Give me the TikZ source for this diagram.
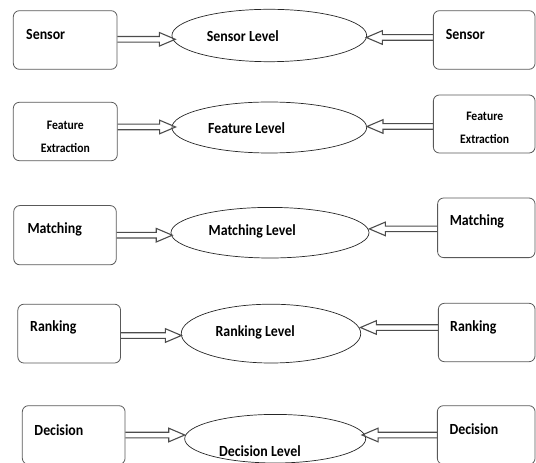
\documentclass[tikz,border=0pt]{standalone}
\usepackage{fontspec}
\newfontfamily\cf[FakeStretch=0.9]{Carlito}
\usetikzlibrary{shapes.geometric,calc}
\tikzset{
  sbox/.style={draw=black!65, line width=0.8bp, rounded corners=6bp, inner sep=0pt},
  lvl/.style={draw=black!85, line width=0.7bp, ellipse, inner sep=0pt},
  txt/.style={font=\cf\bfseries\fontsize{15.5}{18}\selectfont, inner sep=0pt, anchor=base west},
  stxt/.style={font=\cf\bfseries\fontsize{13}{15}\selectfont, inner sep=0pt, anchor=base},
  harrow/.style={draw=black!70, line width=1.1bp, line join=miter}
}
\newcommand\dblarrow[2]{%
  \draw[harrow] let \p1=#1, \p2=#2, \n1={ifthenelse(\x2>\x1,1,-1)} in
    (\x1,\y1+2.8bp) -- (\x2-\n1*16bp,\y1+2.8bp) -- (\x2-\n1*16bp,\y1+6.8bp) -- (\x2,\y1)
    -- (\x2-\n1*16bp,\y1-6.8bp) -- (\x2-\n1*16bp,\y1-2.8bp) -- (\x1,\y1-2.8bp);}
\begin{document}
\begin{tikzpicture}[x=1bp,y=-1bp]
\useasboundingbox (0,0) rectangle (536,463);
\clip (0,0) rectangle (536,463);
% row 1
\node[sbox, minimum width=103.7bp, minimum height=58.6bp] (L1) at (65.2,40) {};
\node[lvl, minimum width=194.7bp, minimum height=52.4bp] (E1) at (269.3,35.5) {};
\node[sbox, minimum width=101.7bp, minimum height=58.6bp] (R1) at (484.2,40) {};
\node[txt] (L1t) at (26,39.3) {Sensor};
\node[txt] (E1t) at (206.7,41.7) {Sensor Level};
\node[txt] (R1t) at (445.7,39.3) {Sensor};
\dblarrow{([yshift=0.7bp]L1.east)}{([xshift=3.7bp]E1.west)}
\dblarrow{([yshift=2.5bp]R1.west)}{([xshift=-0.7bp]E1.east)}
% row 2
\node[sbox, minimum width=104bp, minimum height=58.4bp] (L2) at (65.3,131.5) {};
\node[lvl, minimum width=194.7bp, minimum height=51bp] (E2) at (269.3,127.5) {};
\node[sbox, minimum width=101.7bp, minimum height=58bp] (R2) at (484.2,124) {};
\node[stxt] (L2a) at (65.3,129.3) {Feature};
\node[stxt] (L2b) at (65.3,152.7) {Extraction};
\node[txt] (E2t) at (208,133.3) {Feature Level};
\node[stxt] (R2a) at (484.7,120.7) {Feature};
\node[stxt] (R2b) at (484.7,143.3) {Extraction};
\dblarrow{([yshift=4.5bp]L2.east)}{([xshift=4bp]E2.west)}
\dblarrow{([yshift=-2.5bp]R2.west)}{(E2.east)}
% row 3
\node[sbox, minimum width=102.5bp, minimum height=59.2bp] (L3) at (65,235.2) {};
\node[lvl, minimum width=198bp, minimum height=50.6bp] (E3) at (270,232.7) {};
\node[sbox, minimum width=97.4bp, minimum height=59.6bp] (R3) at (486.3,227.8) {};
\node[txt] (L3t) at (27.4,233.5) {Matching};
\node[txt] (E3t) at (208.5,236) {Matching Level};
\node[txt] (R3t) at (449.6,226) {Matching};
\dblarrow{(L3.east)}{([xshift=1.6bp]E3.west)}
\dblarrow{([yshift=-1.1bp]R3.west)}{(E3.east)}
% row 4
\node[sbox, minimum width=102.7bp, minimum height=58.8bp] (L4) at (69.2,333.6) {};
\node[lvl, minimum width=179.5bp, minimum height=58.8bp] (E4) at (271,333.6) {};
\node[sbox, minimum width=96.7bp, minimum height=58.4bp] (R4) at (486.7,332.5) {};
\node[txt] (L4t) at (30,331) {Ranking};
\node[txt] (E4t) at (215.4,336) {Ranking Level};
\node[txt] (R4t) at (450,331.7) {Ranking};
\dblarrow{([yshift=-1.9bp]L4.east)}{([xshift=0.5bp]E4.west)}
\dblarrow{([yshift=5bp]R4.west)}{([xshift=-0.7bp]E4.east)}
% row 5
\node[sbox, minimum width=102.7bp, minimum height=58.6bp] (L5) at (73.7,435) {};
\node[lvl, minimum width=181bp, minimum height=48.6bp] (E5) at (275.2,438.7) {};
\node[sbox, minimum width=97.7bp, minimum height=58.6bp] (R5) at (486.2,435) {};
\node[txt] (L5t) at (34.3,435) {Decision};
\node[txt] (E5t) at (218.8,456) {Decision Level};
\node[txt] (R5t) at (449.3,434) {Decision};
\dblarrow{(L5.east)}{([xshift=0.4bp]E5.west)}
\dblarrow{(R5.west)}{([xshift=-4bp]E5.east)}
\end{tikzpicture}
\end{document}
